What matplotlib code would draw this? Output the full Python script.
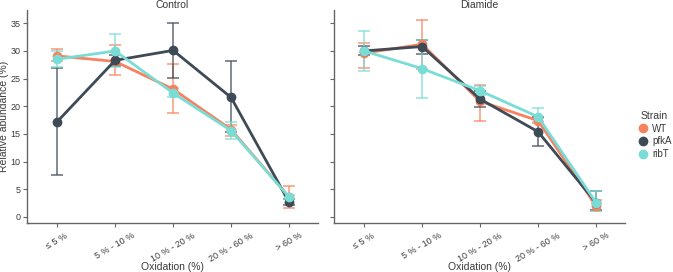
import matplotlib
matplotlib.use("Agg")
import matplotlib.pyplot as plt
import numpy as np

plt.rcParams['font.family'] = ['Liberation Sans', 'DejaVu Sans']

categories = ["≤ 5 %", "5 % - 10 %", "10 % - 20 %", "20 % - 60 %", "> 60 %"]
panels = ["Control", "Diamide"]
strains = ["WT", "pfkA", "ribT"]
colors = {"WT": "#F8815F", "pfkA": "#3E4A55", "ribT": "#79DDD5"}

# Control
ctrl_WT = [29.1, 28.1, 23.1, 15.8, 3.6]
ctrl_WT_lo = [28.1, 25.7, 18.7, 14.6, 1.7]
ctrl_WT_hi = [30.4, 31.1, 27.7, 16.6, 5.6]
ctrl_pfkA = [17.2, 28.3, 30.1, 21.6, 2.7]
ctrl_pfkA_lo = [7.5, 27.3, 25.1, 15.3, 2.2]
ctrl_pfkA_hi = [27.0, 29.3, 35.1, 28.2, 3.3]
ctrl_ribT = [28.5, 30.0, 22.4, 15.6, 3.6]
ctrl_ribT_lo = [27.1, 27.1, 21.6, 14.1, 3.2]
ctrl_ribT_hi = [29.9, 33.1, 23.3, 17.1, 4.0]

# Diamide
dia_WT = [29.6, 31.2, 20.9, 17.4, 2.0]
dia_WT_lo = [26.9, 26.8, 17.4, 16.9, 1.1]
dia_WT_hi = [31.4, 35.6, 23.8, 17.9, 3.0]
dia_pfkA = [30.0, 30.8, 21.3, 15.4, 2.6]
dia_pfkA_lo = [29.2, 29.4, 19.8, 12.8, 1.3]
dia_pfkA_hi = [30.9, 32.0, 22.8, 18.0, 4.6]
dia_ribT = [30.0, 26.8, 22.8, 18.1, 2.6]
dia_ribT_lo = [26.3, 21.5, 22.0, 17.2, 1.0]
dia_ribT_hi = [33.6, 32.0, 23.7, 19.7, 4.6]

data = {
    "Control": {
        "WT": (ctrl_WT, ctrl_WT_lo, ctrl_WT_hi),
        "pfkA": (ctrl_pfkA, ctrl_pfkA_lo, ctrl_pfkA_hi),
        "ribT": (ctrl_ribT, ctrl_ribT_lo, ctrl_ribT_hi),
    },
    "Diamide": {
        "WT": (dia_WT, dia_WT_lo, dia_WT_hi),
        "pfkA": (dia_pfkA, dia_pfkA_lo, dia_pfkA_hi),
        "ribT": (dia_ribT, dia_ribT_lo, dia_ribT_hi),
    },
}

fig = plt.figure(figsize=(6.73, 2.72), dpi=100)
W, H = 673, 272
axes = []
for i, (x0, x1) in enumerate([(27, 318), (334, 625)]):
    ax = fig.add_axes([x0 / W, 1 - 223 / H, (x1 - x0) / W, (223 - 10) / H])
    axes.append(ax)

spine_col = "#666666"
text_col = "#3a3a3a"
x = np.arange(len(categories))
for ax, panel in zip(axes, panels):
    for s in strains:
        m, lo, hi = data[panel][s]
        m = np.array(m); lo = np.array(lo); hi = np.array(hi)
        ax.errorbar(x, m, yerr=[m - lo, hi - m], fmt="none", ecolor=colors[s],
                    elinewidth=1.2, capsize=4.5, capthick=1.2, alpha=0.75, zorder=2)
        ax.plot(x, m, color=colors[s], lw=2, marker="o", ms=6, zorder=3, label=s)
    ax.set_xlim(-0.52, 4.5)
    ax.set_ylim(-1.1, 37.4)
    ax.set_xticks(x)
    ax.set_xticklabels(categories, rotation=30, fontsize=6.5, color=text_col)
    ax.set_yticks([0, 5, 10, 15, 20, 25, 30, 35])
    ax.tick_params(axis="both", labelsize=6.5, colors=spine_col, labelcolor=text_col,
                   length=3.2, width=0.8)
    ax.tick_params(axis="y", pad=1.5)
    ax.tick_params(axis="x", pad=2.5)
    for sp in ["top", "right"]:
        ax.spines[sp].set_visible(False)
    for sp in ["left", "bottom"]:
        ax.spines[sp].set_color(spine_col)
        ax.spines[sp].set_linewidth(1.0)
    ax.set_title(panel, fontsize=7.5, color=text_col, pad=0.8)
    ax.set_xlabel("Oxidation (%)", fontsize=7.5, color=text_col)
    ax.xaxis.set_label_coords(0.5, -(262.5 - 223) / 213)

axes[0].set_ylabel("Relative abundance (%)", fontsize=7.5, color=text_col)
axes[0].yaxis.set_label_coords(-(27 - 9) / 291, 0.5)
axes[1].tick_params(axis="y", labelleft=False)

handles = [plt.Line2D([], [], ls="none", marker="o", ms=6, color=colors[s]) for s in strains]
leg = fig.legend(handles, strains, title="Strain", loc="center left",
                 bbox_to_anchor=(628 / W, 1 - 135 / H), frameon=False, fontsize=7,
                 title_fontsize=7.5, handletextpad=0.4, labelspacing=0.3, handlelength=1.2)
for t in leg.get_texts():
    t.set_color(text_col)
leg.get_title().set_color(text_col)

fig.savefig("out.png", dpi=100)
